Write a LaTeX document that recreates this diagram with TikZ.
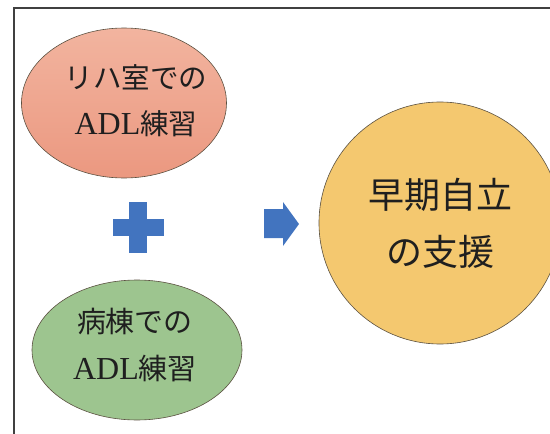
\documentclass[tikz,border=0pt]{standalone}
\usepackage{fontspec}
\setmainfont{Liberation Serif}
\newfontfamily\jp{Noto Sans CJK JP}
\usetikzlibrary{shapes.geometric}
\definecolor{salmonT}{HTML}{F2B49F}
\definecolor{salmonB}{HTML}{EB9880}
\definecolor{greenF}{HTML}{9DC58F}
\definecolor{goldF}{HTML}{F4C86F}
\definecolor{blueF}{HTML}{4274BF}
\definecolor{edge}{HTML}{5A5040}
\newcommand{\adl}{{\rmfamily\fontsize{32}{46}\selectfont ADL}}
\tikzset{
  bubble/.style={ellipse, draw=edge, line width=0.6pt, inner sep=0pt, align=center, text=black!88},
  sym/.style={fill=blueF, draw=none}
}
\begin{document}
\begin{tikzpicture}[x=1pt,y=-1pt]
\useasboundingbox (0,0) rectangle (550,434);
\clip (0,0) rectangle (550,434);
\draw[line width=2pt, draw=black!75] (14,8) rectangle (570,450);
\node[bubble, minimum width=205pt, minimum height=150pt, top color=salmonT, bottom color=salmonB,
      font=\jp\fontsize{28.5}{46}\selectfont] (rh) at (124,103) {};
\node[align=center, font=\jp\fontsize{28.5}{46}\selectfont, text=black!88] (rht) at (136,101) {リハ室での\\\adl 練習};
\node[bubble, minimum width=210pt, minimum height=140pt, fill=greenF] (wd) at (137,350) {};
\node[align=center, font=\jp\fontsize{29}{47}\selectfont, text=black!88] (wdt) at (135,345) {病棟での\\\adl 練習};
\node[bubble, circle, minimum size=242pt, fill=goldF,
      font=\jp\fontsize{36}{57}\selectfont] (goal) at (440,223) {早期自立\\の支援};
% plus sign
\fill[sym] (129,202) rectangle (147,253);
\fill[sym] (113,219) rectangle (164,236);
% arrow
\fill[sym] (264,209) -- (283,209) -- (283,202) -- (299,224) -- (283,246) -- (283,238) -- (264,238) -- cycle;
\end{tikzpicture}
\end{document}
